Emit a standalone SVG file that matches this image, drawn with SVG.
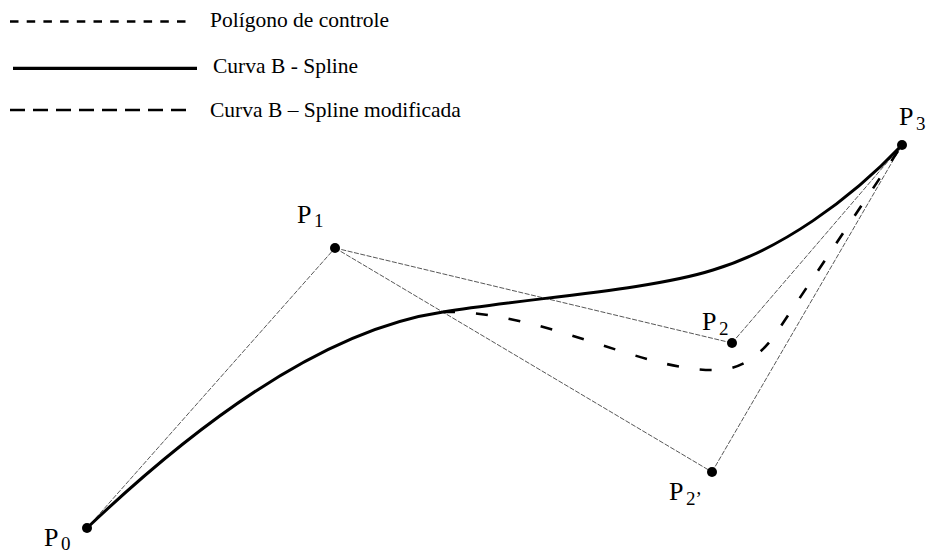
<svg xmlns="http://www.w3.org/2000/svg" width="927" height="554" viewBox="0 0 927 554">
<style>
text{font-family:'Liberation Serif','Times New Roman',Times,serif;fill:#000}
.leg{font-size:21.5px}
.pl{font-size:26px}
.sub{font-size:19px}
.poly{stroke:#444;stroke-width:0.9;fill:none;stroke-dasharray:5 1.5}
.dot{fill:#000}
</style>
<rect width="927" height="554" fill="#fff"/>
<g id="legend">
<line x1="10" y1="21.5" x2="188" y2="21.5" stroke="#000" stroke-width="2.3" stroke-dasharray="8.5 8.2"/>
<text class="leg" x="210" y="27">Polígono de controle</text>
<line x1="13" y1="68.3" x2="197" y2="68.3" stroke="#000" stroke-width="3.3"/>
<text class="leg" x="213" y="73">Curva B - Spline</text>
<line x1="10" y1="110" x2="187" y2="110" stroke="#000" stroke-width="2.5" stroke-dasharray="15 8"/>
<text class="leg" x="210" y="117">Curva B – Spline modificada</text>
</g>
<g id="connectors">
<line class="poly" x1="87" y1="528" x2="335" y2="248"/>
<line class="poly" x1="335" y1="248" x2="732" y2="343"/>
<line class="poly" x1="732" y1="343" x2="902" y2="145"/>
<line class="poly" x1="335" y1="248" x2="712" y2="472"/>
<line class="poly" x1="712" y1="472" x2="902" y2="145"/>
<path id="curve" d="M87,528 C190,430 320,330 443,312 C530,298 650,290 713,270 C780,250 850,200 902,145" fill="none" stroke="#000" stroke-width="3"/>
<path id="curve-mod" d="M443,312 C540,310 640,370 712,370 C738,371 758,358 775,335 L902,145" fill="none" stroke="#000" stroke-width="2.6" stroke-dasharray="12 21"/>
</g>
<g id="P0"><circle class="dot" cx="87" cy="528" r="5"/><text class="pl" x="44" y="546">P<tspan class="sub" x="61" y="550">0</tspan></text></g>
<g id="P1"><circle class="dot" cx="335" cy="248" r="5"/><text class="pl" x="297" y="223">P<tspan class="sub" x="314" y="227">1</tspan></text></g>
<g id="P2"><circle class="dot" cx="732" cy="343" r="5"/><text class="pl" x="702" y="330">P<tspan class="sub" x="719" y="335">2</tspan></text></g>
<g id="P2p"><circle class="dot" cx="712" cy="472" r="5"/><text class="pl" x="669" y="500">P<tspan class="sub" x="686" y="505">2’</tspan></text></g>
<g id="P3"><circle class="dot" cx="902" cy="145" r="5"/><text class="pl" x="899" y="125">P<tspan class="sub" x="916" y="130">3</tspan></text></g>
</svg>
